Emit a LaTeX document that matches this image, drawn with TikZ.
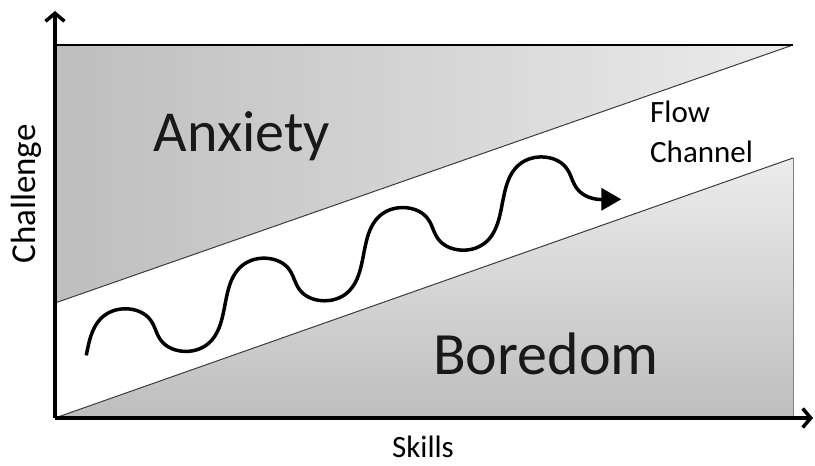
\documentclass[tikz,border=0pt]{standalone}
\usepackage{fontspec}
\setmainfont{Carlito}
\usetikzlibrary{arrows.meta}
\definecolor{shdark}{RGB}{190,190,190}
\definecolor{shlight}{RGB}{236,236,236}
\definecolor{edgegray}{RGB}{60,60,60}
\tikzset{
  axis/.style={line width=3.5pt, -{Straight Barb[length=8pt,width=19pt]}},
  wavy/.style={line width=3.5pt, -{Triangle[length=20pt,width=22pt]}},
  big/.style={font=\fontsize{58}{70}\selectfont, text=black!90, inner sep=0pt},
  mid/.style={font=\fontsize{31}{38}\selectfont, inner sep=0pt},
}
\begin{document}
\begin{tikzpicture}[x=1pt,y=1pt]
\useasboundingbox (0,0) rectangle (815,466);
% region corners
\coordinate (O) at (55,48);
\coordinate (ytop) at (55,455);
\coordinate (xend) at (813,48);
\coordinate (a1) at (55,421);
\coordinate (a2) at (793,421);
\coordinate (a3) at (55,163);
\coordinate (b1) at (793,308);
\coordinate (b2) at (793,48);
% Anxiety region
\shade[left color=shdark, right color=shlight] (a1) -- (a2) -- (a3) -- cycle;
\draw[edgegray, line width=1pt] (a3) -- (a2);
\draw[black, line width=2pt] (a1) -- (a2);
% Boredom region
\shade[top color=shlight, bottom color=shdark] (O) -- (b1) -- (b2) -- cycle;
\draw[edgegray, line width=1pt] (O) -- (b1);
\draw[gray, line width=1pt] (b1) -- (b2);
% axes
\draw[axis] (O) -- (ytop);
\draw[axis] (O) -- (xend);
% wave through the flow channel
\draw[wavy] plot[domain=0:1350, samples=400, smooth, variable=\t]
  ({86.3 + 0.3852*\t - 6.62*sin(2*\t)}, {110.6 + 0.1406*\t + 2.01*sin(2*\t) + 33.7*sin(\t)})
  -- ++(15,0);
% labels
\node[big, anchor=base] (anx) at (242,314) {Anxiety};
\node[big, anchor=base, font=\fontsize{60}{72}\selectfont] (bor) at (546,91) {Boredom};
\node[mid, anchor=base west] (flow) at (650,343) {Flow};
\node[mid, anchor=base west] (chan) at (650,303) {Channel};
\node[mid, anchor=base] (skills) at (423,8) {Skills};
\node[mid, anchor=base, rotate=90, font=\fontsize{35}{42}\selectfont] (chal) at (35,272) {Challenge};
\end{tikzpicture}
\end{document}
